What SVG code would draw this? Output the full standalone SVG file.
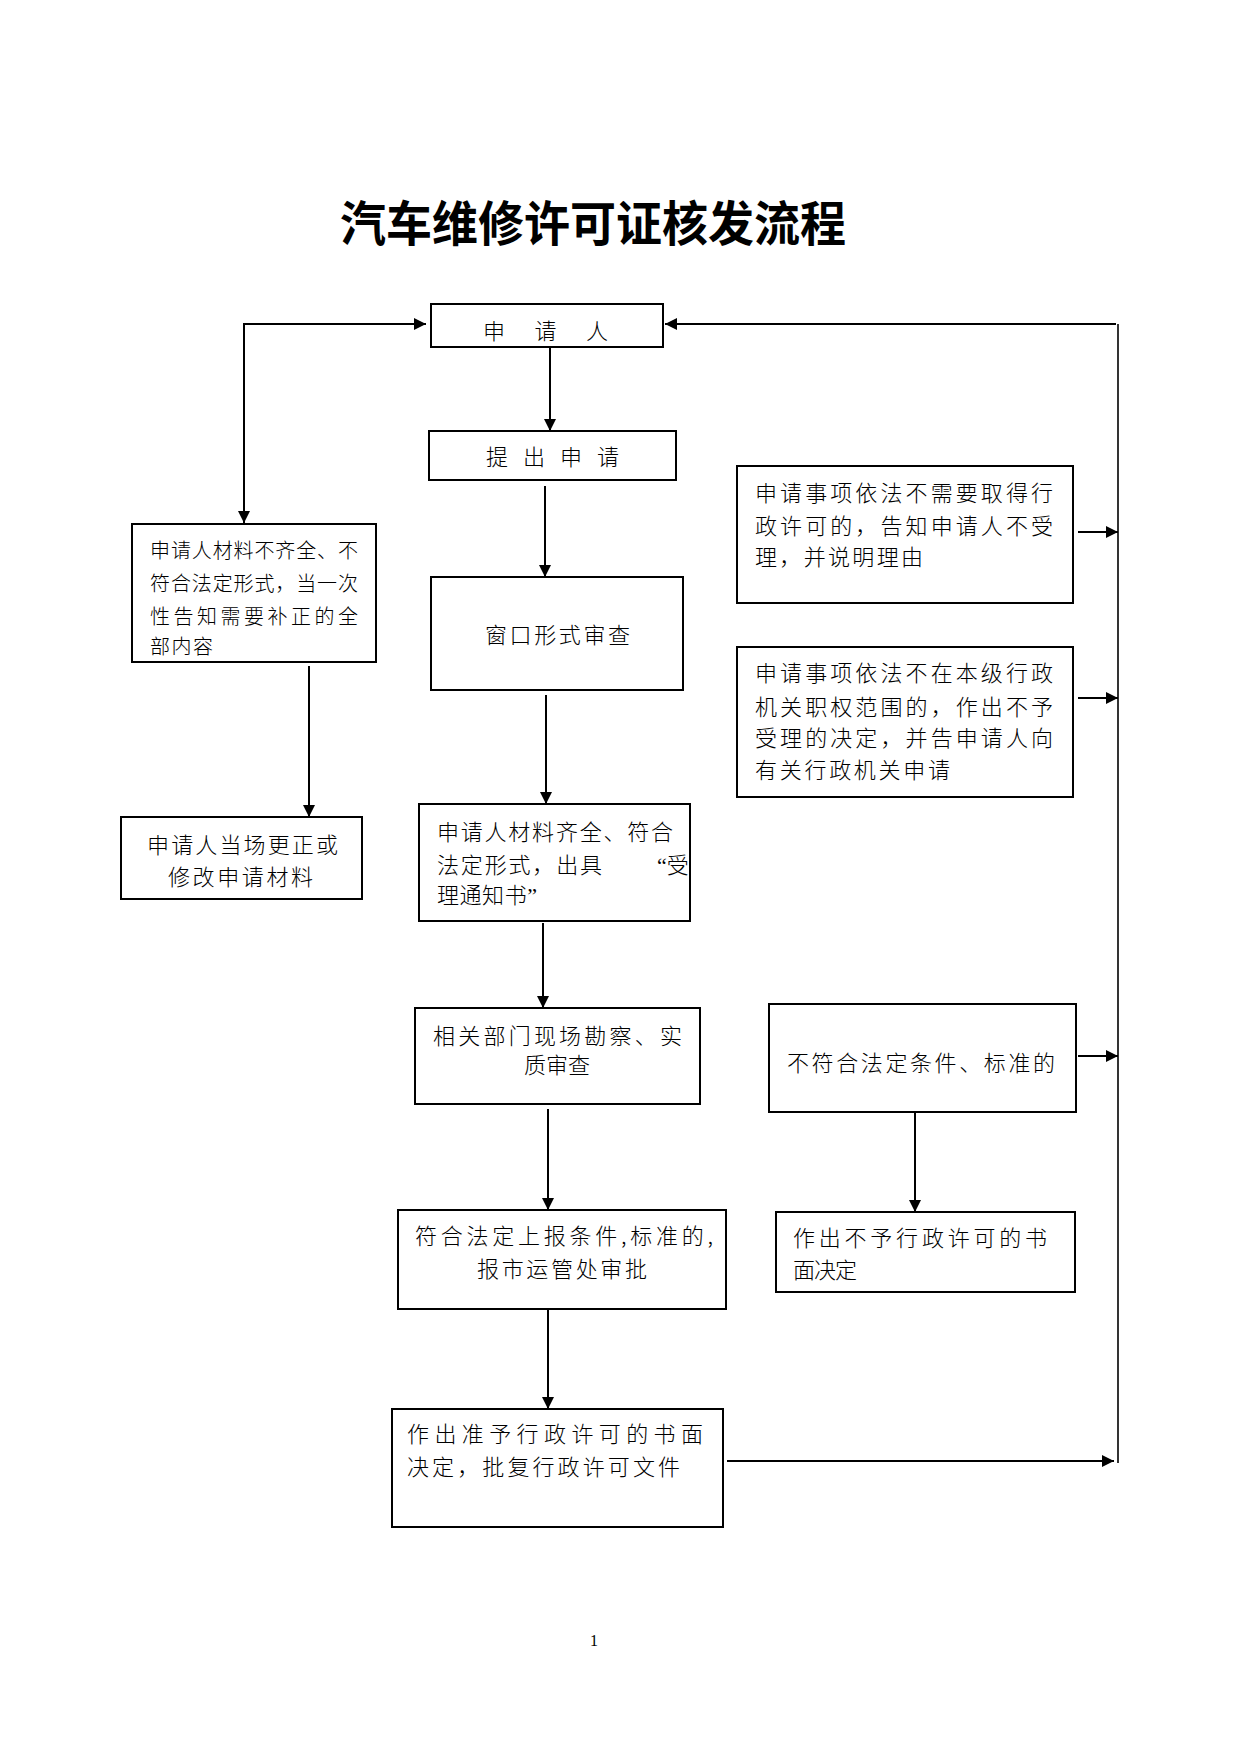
<svg xmlns="http://www.w3.org/2000/svg" width="1241" height="1754" viewBox="0 0 1241 1754">
<style>
.box{fill:#fff;stroke:#000;stroke-width:2}
.t{font-family:"Noto Sans CJK SC","Noto Sans CJK TC",sans-serif;font-size:22px;font-weight:300;fill:#000}
.s{font-size:20px}
.title{font-family:"Noto Sans CJK SC",sans-serif;font-size:48px;font-weight:bold;fill:#000}
.q{font-family:"Liberation Serif",serif}
.c{fill:none;stroke:#000;stroke-width:2}
.v{fill:none;stroke:#000;stroke-width:1.6}
</style>
<defs>
<marker id="ah" markerUnits="userSpaceOnUse" markerWidth="12" markerHeight="12" refX="12" refY="6" orient="auto-start-reverse">
<path d="M0,0 L12,6 L0,12 z" fill="#000"/>
</marker>
<clipPath id="clip4"><rect x="419" y="804" width="271" height="117"/></clipPath>
</defs>
<rect width="1241" height="1754" fill="#fff"/>
<text class="title" x="340" y="241" textLength="506" lengthAdjust="spacingAndGlyphs">汽车维修许可证核发流程</text>

<g id="connectors">
<path class="c" d="M426,324 L244,324 L244,523" marker-start="url(#ah)" marker-end="url(#ah)"/>
<path class="c" d="M1116,324 L665,324" marker-end="url(#ah)"/>
<path class="v" d="M1118,324 L1118,1463"/>
<path class="c" d="M550,347 L550,431" marker-end="url(#ah)"/>
<path class="c" d="M545,486 L545,577" marker-end="url(#ah)"/>
<path class="c" d="M546,695 L546,804" marker-end="url(#ah)"/>
<path class="c" d="M543,923 L543,1008" marker-end="url(#ah)"/>
<path class="c" d="M548,1109 L548,1210" marker-end="url(#ah)"/>
<path class="c" d="M548,1310 L548,1409" marker-end="url(#ah)"/>
<path class="c" d="M309,666 L309,817" marker-end="url(#ah)"/>
<path class="c" d="M915,1113 L915,1212" marker-end="url(#ah)"/>
<path class="c" d="M1078,532 L1118,532" marker-end="url(#ah)"/>
<path class="c" d="M1078,698 L1118,698" marker-end="url(#ah)"/>
<path class="c" d="M1078,1056 L1118,1056" marker-end="url(#ah)"/>
<path class="c" d="M727,1461 L1114,1461" marker-end="url(#ah)"/>
</g>

<g id="n1">
<rect class="box" x="431" y="304" width="232" height="43"/>
<text class="t" x="483" y="339" textLength="125" lengthAdjust="spacing">申请人</text>
</g>
<g id="n2">
<rect class="box" x="429" y="431" width="247" height="49"/>
<text class="t" x="486" y="465" textLength="133" lengthAdjust="spacing">提出申请</text>
</g>
<g id="n3">
<rect class="box" x="431" y="577" width="252" height="113"/>
<text class="t" x="485" y="643" textLength="145" lengthAdjust="spacing">窗口形式审查</text>
</g>
<g id="n4">
<rect class="box" x="419" y="804" width="271" height="117"/>
<g clip-path="url(#clip4)">
<text class="t" x="437" y="840" textLength="236" lengthAdjust="spacing">申请人材料齐全、符合</text>
<text class="t" x="437" y="873" textLength="165" lengthAdjust="spacing">法定形式，出具</text>
<text class="t" x="657" y="873"><tspan class="q">“</tspan>受</text>
<text class="t" x="437" y="903" textLength="100" lengthAdjust="spacing">理通知书<tspan class="q">”</tspan></text>
</g>
</g>
<g id="n5">
<rect class="box" x="415" y="1008" width="285" height="96"/>
<text class="t" x="433" y="1044" textLength="249" lengthAdjust="spacing">相关部门现场勘察、实</text>
<text class="t" x="557" y="1073" text-anchor="middle">质审查</text>
</g>
<g id="n6">
<rect class="box" x="398" y="1210" width="328" height="99"/>
<text class="t" x="415" y="1244" textLength="298" lengthAdjust="spacing">符合法定上报条件,标准的,</text>
<text class="t" x="477" y="1277" textLength="170" lengthAdjust="spacing">报市运管处审批</text>
</g>
<g id="n7">
<rect class="box" x="392" y="1409" width="331" height="118"/>
<text class="t" x="407" y="1442" textLength="296" lengthAdjust="spacing">作出准予行政许可的书面</text>
<text class="t" x="407" y="1475" textLength="273" lengthAdjust="spacing">决定，批复行政许可文件</text>
</g>
<g id="n8">
<rect class="box" x="132" y="524" width="244" height="138"/>
<text class="t s" x="150" y="558" textLength="208" lengthAdjust="spacing">申请人材料不齐全、不</text>
<text class="t s" x="150" y="591" textLength="208" lengthAdjust="spacing">符合法定形式，当一次</text>
<text class="t s" x="150" y="624" textLength="208" lengthAdjust="spacing">性告知需要补正的全</text>
<text class="t s" x="150" y="654" textLength="63" lengthAdjust="spacing">部内容</text>
</g>
<g id="n9">
<rect class="box" x="121" y="817" width="241" height="82"/>
<text class="t" x="147" y="853" textLength="191" lengthAdjust="spacing">申请人当场更正或</text>
<text class="t" x="168" y="885" textLength="145" lengthAdjust="spacing">修改申请材料</text>
</g>
<g id="n10">
<rect class="box" x="737" y="466" width="336" height="137"/>
<text class="t" x="755" y="501" textLength="298" lengthAdjust="spacing">申请事项依法不需要取得行</text>
<text class="t" x="755" y="534" textLength="298" lengthAdjust="spacing">政许可的，告知申请人不受</text>
<text class="t" x="755" y="565" textLength="168" lengthAdjust="spacing">理，并说明理由</text>
</g>
<g id="n11">
<rect class="box" x="737" y="647" width="336" height="150"/>
<text class="t" x="755" y="681" textLength="298" lengthAdjust="spacing">申请事项依法不在本级行政</text>
<text class="t" x="755" y="715" textLength="298" lengthAdjust="spacing">机关职权范围的，作出不予</text>
<text class="t" x="755" y="746" textLength="298" lengthAdjust="spacing">受理的决定，并告申请人向</text>
<text class="t" x="755" y="778" textLength="195" lengthAdjust="spacing">有关行政机关申请</text>
</g>
<g id="n12">
<rect class="box" x="769" y="1004" width="307" height="108"/>
<text class="t" x="787" y="1071" textLength="268" lengthAdjust="spacing">不符合法定条件、标准的</text>
</g>
<g id="n13">
<rect class="box" x="776" y="1212" width="299" height="80"/>
<text class="t" x="793" y="1246" textLength="254" lengthAdjust="spacing">作出不予行政许可的书</text>
<text class="t" x="793" y="1278" textLength="64" lengthAdjust="spacing">面决定</text>
</g>
<text x="594" y="1646" font-family="Liberation Serif,serif" font-size="16" text-anchor="middle">1</text>
</svg>
